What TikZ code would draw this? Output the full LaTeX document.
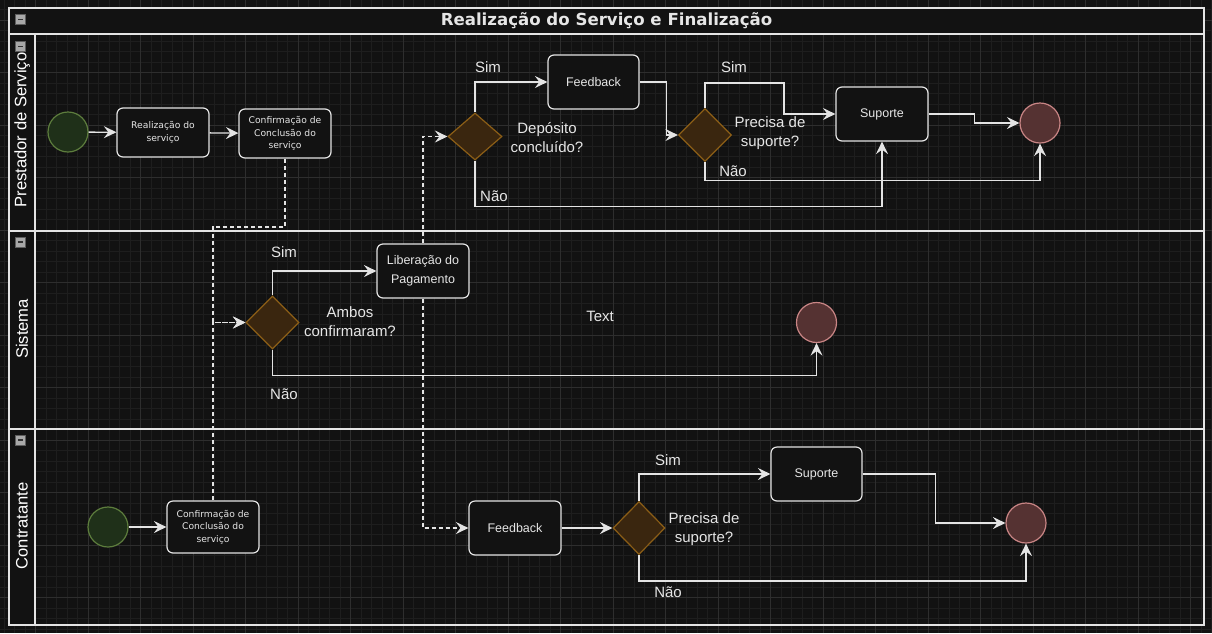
\documentclass[tikz,border=0pt]{standalone}
\usepackage{fontspec}
\setmainfont{Liberation Sans}
\newfontfamily\dejavu{DejaVu Sans}
\usetikzlibrary{arrows.meta,shapes.geometric,calc}
\definecolor{bg}{HTML}{121212}
\definecolor{minorgrid}{HTML}{1E1E1E}
\definecolor{majorgrid}{HTML}{2E2E2E}
\definecolor{poolline}{HTML}{E4E4E4}
\definecolor{txt}{HTML}{E6E6E6}
\definecolor{startfill}{HTML}{1F3019}
\definecolor{startdraw}{HTML}{5D7D3D}
\definecolor{endfill}{HTML}{553232}
\definecolor{enddraw}{HTML}{C98585}
\definecolor{gwfill}{HTML}{3A260F}
\definecolor{gwdraw}{HTML}{8C5E16}
\definecolor{iconfill}{HTML}{A8A8A8}
\definecolor{iconline}{HTML}{5E5E5E}
\tikzset{
  poolstroke/.style={draw=poolline, line width=1.4pt},
  taskbox/.style={draw=poolline, fill=bg, line width=1.2pt, rounded corners=6pt,
    minimum width=92pt, minimum height=52pt, inner sep=1pt, align=center, text=txt},
  smalltask/.style={taskbox, font=\dejavu\fontsize{9.2}{12.5}\selectfont},
  midtask/.style={taskbox, font=\fontsize{12.5}{19}\selectfont},
  startev/.style={circle, draw=startdraw, fill=startfill, line width=1.2pt, minimum size=40pt, inner sep=0pt},
  endev/.style={circle, draw=enddraw, fill=endfill, line width=1.2pt, minimum size=40pt, inner sep=0pt},
  gateway/.style={diamond, draw=gwdraw, fill=gwfill, line width=1.2pt, minimum width=53pt, minimum height=53pt, inner sep=0pt},
  flow/.style={draw=poolline, line width=1.3pt, -{Stealth[length=12.5pt,width=12pt,inset=4.5pt]}},
  msgflow/.style={flow, dash pattern=on 4pt off 3pt},
  lbl/.style={text=txt, font=\fontsize{15}{19}\selectfont, align=center, inner sep=0pt},
  lanelabel/.style={text=white, font=\fontsize{16.6}{20}\selectfont, rotate=90, inner sep=0pt},
  titlelabel/.style={text=txt, font=\dejavu\bfseries\fontsize{16.6}{20}\selectfont, inner sep=0pt},
  minusicon/.style={draw=iconline, fill=iconfill, line width=0.5pt, minimum size=10pt, inner sep=0pt,
    path picture={\draw[line width=1.6pt, draw=black!80] ($(path picture bounding box.west)+(2.5pt,0)$) -- ($(path picture bounding box.east)+(-2.5pt,0)$);}},
}
\begin{document}
\begin{tikzpicture}[x=1pt,y=-1pt]
\useasboundingbox (0,0) rectangle (1212,633);
\fill[bg] (0,0) rectangle (1212,633);
% grid
\foreach \i in {0,...,115} {\draw[minorgrid, line width=0.6pt] ({4+10.5*\i},0) -- ({4+10.5*\i},633);}
\foreach \i in {0,...,60} {\draw[minorgrid, line width=0.6pt] (0,{9.5+10.5*\i}) -- (1212,{9.5+10.5*\i});}
\foreach \i in {0,...,22} {\draw[majorgrid, line width=0.8pt] ({35.5+52.5*\i},0) -- ({35.5+52.5*\i},633);}
\foreach \i in {0,...,11} {\draw[majorgrid, line width=0.8pt] (0,{20+52.5*\i}) -- (1212,{20+52.5*\i});}
% pool
\fill[bg] (9,8) rectangle (1204,34);
\fill[bg] (9,34) rectangle (35,625);
\draw[poolstroke] (9,8) rectangle (1204,625);
\draw[poolstroke] (9,34) -- (1204,34);
\draw[poolstroke] (35,34) -- (35,625);
\draw[poolstroke] (9,231) -- (1204,231);
\draw[poolstroke] (9,429) -- (1204,429);
\node[titlelabel] (title) at (606.5,21) {Realização do Serviço e Finalização};
\node[lanelabel] (lane1) at (22,130) {Prestador de Serviço};
\node[lanelabel] (lane2) at (22,329) {Sistema};
\node[lanelabel] (lane3) at (22,526) {Contratante};
\node[minusicon] (m0) at (20.5,19.5) {};
\node[minusicon] (m1) at (20.5,46.5) {};
\node[minusicon] (m2) at (20.5,242) {};
\node[minusicon] (m3) at (20.5,440) {};

% lane 1
\node[startev] (start1) at (68,132) {};
\node[smalltask, minimum height=49pt] (t1) at (163,132.5) {Realização do\\serviço};
\node[smalltask, minimum height=49pt] (t2) at (285,133.5) {Confirmação de\\Conclusão do\\serviço};
\node[gateway, minimum width=54pt, minimum height=47pt] (g1) at (475,136.5) {};
\node[lbl] (g1q) at (547,137.5) {Depósito\\concluído?};
\node[midtask, minimum width=91pt, minimum height=54pt] (fb1) at (593.5,82) {Feedback};
\node[gateway] (g2) at (705,135) {};
\node[lbl] (g2q) at (770,133) {Precisa de\\suporte?};
\node[midtask, minimum height=54pt] (sup1) at (882,114) {Suporte};
\node[endev] (end1) at (1040,123) {};
\node[lbl] (s1) at (488,67) {Sim};
\node[lbl] (n1) at (494,196) {Não};
\node[lbl] (s2) at (734,67) {Sim};
\node[lbl] (n2) at (733,171) {Não};

% lane 2
\node[gateway] (g3) at (272.5,322.5) {};
\node[lbl] (g3q) at (350,322) {Ambos\\confirmaram?};
\node[midtask, minimum height=54pt] (lib) at (423,271) {Liberação do\\Pagamento};
\node[endev] (end2) at (816.5,322.5) {};
\node[lbl] (txt) at (600,316) {Text};
\node[lbl] (s3) at (284,252) {Sim};
\node[lbl] (n3) at (284,394) {Não};

% lane 3
\node[startev] (start2) at (108,527) {};
\node[smalltask] (t3) at (213,527) {Confirmação de\\Conclusão do\\serviço};
\node[midtask, minimum height=54pt] (fb2) at (515,528) {Feedback};
\node[gateway, minimum width=52pt] (g4) at (639,528) {};
\node[lbl] (g4q) at (704,529) {Precisa de\\suporte?};
\node[midtask, minimum width=91pt, minimum height=54pt] (sup2) at (816.5,474) {Suporte};
\node[endev] (end3) at (1026,523) {};
\node[lbl] (s4) at (668,460) {Sim};
\node[lbl] (n4) at (668,592) {Não};

% flows lane 1
\draw[flow] (start1) -- (t1);
\draw[flow] (t1) -- (t2);
\draw[flow] (g1.north) |- (fb1.west);
\draw[flow] (fb1.east) -- ++(27,0) |- (g2.west);
\draw[flow] (g2.north) |- (784,83) |- (sup1.west);
\draw[flow] (g2.south) -- ++(0,18.5) -| (end1.south);
\draw[flow] (g1.south) -- ++(0,46) -| (sup1.south);
\draw[flow] (sup1.east) -- ++(46,0) |- (end1.west);

% flows lane 2
\draw[flow] (g3.north) |- (lib.west);
\draw[flow] (g3.south) -- ++(0,26) -| (end2.south);

% message flows
\draw[msgflow] (t2.south) |- (213,227) |- (g3.west);
\draw[msgflow] (t3.north) |- (g3.west);
\draw[msgflow] (lib.north) |- (g1.west);
\draw[msgflow] (lib.south) |- (fb2.west);

% flows lane 3
\draw[flow] (start2) -- (t3);
\draw[flow] (fb2) -- (g4);
\draw[flow] (g4.north) |- (sup2.west);
\draw[flow] (sup2.east) -- ++(73,0) |- (end3.west);
\draw[flow] (g4.south) -- ++(0,26) -| (end3.south);
\end{tikzpicture}
\end{document}
